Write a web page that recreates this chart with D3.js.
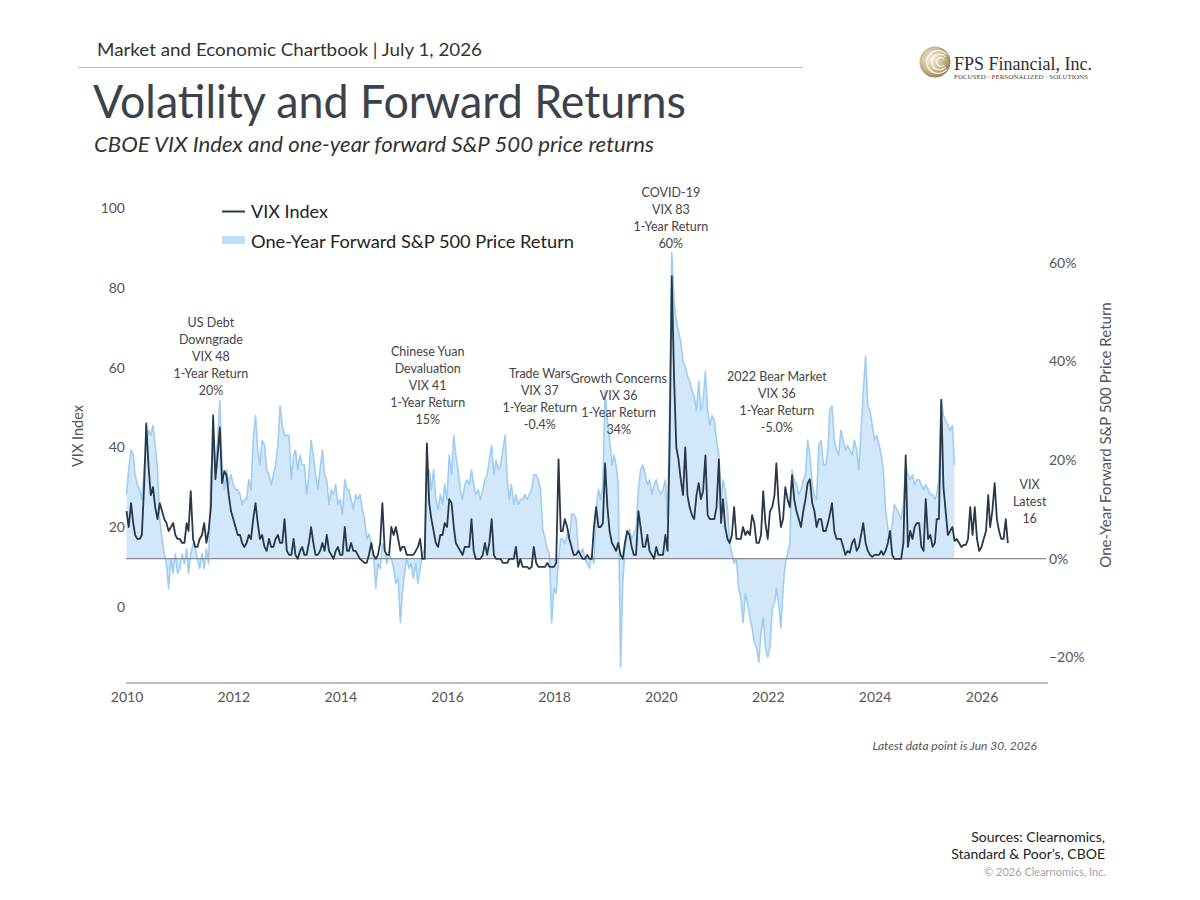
<!DOCTYPE html>
<html>
<head>
<meta charset="utf-8">
<title>Volatility and Forward Returns</title>
<script src="https://cdn.jsdelivr.net/npm/d3@7"></script>
<style>
  html, body { margin: 0; padding: 0; background: #fff; }
  #chart { width: 1200px; height: 900px; }
  text { font-family: Lato, "Open Sans", sans-serif; }
</style>
</head>
<body>
<div id="chart"></div>
<script>
///////////////////////////////////////////////////////////// ! Data
// VIX readings on the 1st and 16th of each month, Jan 2010 - mid Jun 2026
const vixValues = [
  24, 20, 26, 21, 18, 17, 17, 18, 30, 46, 35, 28, 30, 25, 22, 26, 24, 22, 21, 19, 20, 21, 18, 17, // 2010
  17, 16, 16, 21, 19, 29, 17, 15, 15, 17, 18, 21, 16, 19, 25, 48, 32, 38, 45, 31, 34, 33, 28, 24, // 2011
  22, 20, 18, 18, 16, 15, 16, 18, 17, 22, 26, 21, 17, 18, 15, 14, 17, 15, 15, 17, 18, 16, 16, 22, // 2012
  14, 13, 13, 17, 13, 12, 14, 15, 13, 13, 16, 20, 16, 13, 13, 14, 16, 14, 18, 14, 13, 12, 14, 15, // 2013
  13, 13, 20, 14, 14, 16, 14, 14, 13, 12, 11.5, 11, 11, 13, 16, 13, 12, 13, 16, 26, 14, 13, 13, 20, // 2014
  18, 20, 17, 14, 15, 15, 13, 13, 13, 13, 14, 15, 17, 12, 12, 41, 26, 22, 19, 16, 15, 18, 18, 21, // 2015
  20, 27, 26, 20, 16, 15, 14, 13, 15, 15, 15, 22, 14, 12, 12, 12, 13, 16, 13, 16, 22, 13, 12, 12, // 2016
  12, 11, 11, 11, 12, 12, 12, 15, 10, 12, 10, 10, 10, 9.5, 10, 15, 11, 10, 10, 10, 10, 11, 10, 10, // 2017
  10, 11, 37, 19, 19, 22, 20, 17, 15, 13, 13, 14, 13, 12, 12, 13, 12, 12, 20, 25, 20, 20, 21, 36, // 2018
  25, 19, 16, 15, 14, 16, 13, 12, 16, 19, 18, 15, 13, 13, 24, 20, 15, 15, 18, 14, 13, 12, 15, 13, // 2019
  13, 13, 18, 14, 40, 83, 57, 40, 37, 32, 28, 40, 28, 25, 23, 22, 28, 31, 27, 29, 38, 23, 22, 22, // 2020
  22, 25, 37, 21, 27, 20, 17, 16, 18, 25, 17, 17, 17, 20, 18, 19, 18, 23, 21, 16, 16, 18, 29, 21, // 2021
  17, 24, 25, 28, 36, 26, 20, 22, 30, 27, 25, 33, 27, 24, 22, 20, 24, 27, 31, 32, 26, 24, 20, 22, // 2022
  22, 19, 19, 21, 23, 26, 19, 17, 17, 17, 15, 13, 14, 13.5, 16, 17, 14, 15, 18, 21, 16, 14, 13, 12.5, // 2023
  13, 13, 13, 14, 13, 14, 16, 19, 13, 12, 12, 12, 12, 16, 38, 15, 19, 17, 20, 21, 21, 15, 14, 27, // 2024
  17, 18, 15, 16, 22, 22, 52, 30, 24, 18, 19, 20, 16.5, 17, 16, 15, 15.5, 15.5, 17, 25, 18, 25, 17, 14, // 2025
  15, 17, 19, 28, 20, 24, 31, 22, 19, 17, 17, 22, // 2026
];
const vixLatest = { date: "2026-06-30", value: 16 };

// One-year forward S&P 500 price return (%), same semi-monthly dates, Jan 2010 - mid Jun 2025
const returnValues = [
  13, 18, 22, 21, 17, 15, 14, 12, 18, 23, 26, 25, 27, 23, 18, 8, 4, 1, -1, -6, 0, -3, 1, -3, // 2010
  -2, 1, -1, 2, -3, 1, 3, 2, 0, -2, 1, -2, 2, -1, 18, 22, 19, 24, 32, 19, 14, 18, 15, 17, // 2011
  15, 14, 14, 13, 11, 12, 12, 16, 14, 24, 29, 22, 19, 24, 23, 18, 17, 15, 17, 19, 23, 31, 27, 25, // 2012
  25, 25, 16, 21, 22, 18, 21, 19, 19, 13, 17, 24, 21, 17, 14, 18, 22, 17, 16, 11, 14, 13, 15, 11, // 2013
  12, 9, 16, 14, 14, 12, 10, 13, 12, 13, 10, 8, 4, 5, 3, 1, -6, -1, -2, 3, 2, -1, 1, 0, // 2014
  -2, -5, -4, -13, -7, -3, 0, -2, -1, -4, -1, -5, -2, 1, 2, 15, 18, 14, 18, 12, 10, 13, 11, 15, // 2015
  12, 21, 17, 25, 21, 18, 14, 12, 15, 16, 15, 18, 15, 13, 14, 12, 14, 16, 17, 20, 23, 17, 20, 18, // 2016
  19, 22, 25, 16, 12, 15, 11, 13, 11, 12, 12, 13, 12, 13, 14, 17, 17, 16, 14, 6, 4, 2, 1, -13, // 2017
  -6, -7, 0, 4, 4, 3, 5, 4, 9, 9, 8, 2, 1, 2, 0, -1, -2, 1, -1, 10, 14, 12, 15, 34, // 2018
  28, 24, 19, 21, 19, 15, -22, -5, 2, 5, 6, 4, 5, 6, 14, 18, 19, 17, 15, 16, 13, 15, 16, 14, // 2019
  13, 14, 16, 8, 30, 62, 52, 48, 46, 44, 40, 39, 37, 36, 34, 33, 30, 36, 30, 32, 38, 30, 27, 29, // 2020
  28, 24, 21, 12, 16, 14, 10, 3, 1, -1, 0, -6, -8, -13, -7, -9, -12, -14, -17, -18, -21, -15, -12, -18, // 2021
  -20, -18, -10, -9, -6, -9, -14, -6, -1, 1, 3, 18, 16, 15, 13, 14, 16, 17, 24, 21, 15, 13, 12, 23, // 2022
  24, 19, 19, 22, 30, 31, 24, 22, 21, 26, 24, 22, 23, 22, 21, 24, 22, 18, 26, 34, 41, 31, 30, 27, // 2023
  24, 25, 23, 21, 18, 10, 6, 4, 7, 11, 10, 9, 8, 11, 19, 17, 16, 17, 15, 16, 16, 15, 14, 15, // 2024
  14, 13, 13, 12, 13, 16, 32, 29, 28, 27, 26, 27, // 2025
];
const returnLatest = { date: "2025-06-30", value: 19 };

// Axis ticks
const yearTicks = [2010, 2012, 2014, 2016, 2018, 2020, 2022, 2024, 2026];
const vixTicks = [0, 20, 40, 60, 80, 100];
const returnTicks = [-20, 0, 20, 40, 60];

// Event annotations: label text and the date the label is centred on
const annotationText = [
  ["US Debt", "Downgrade", "VIX 48", "1-Year Return", "20%"],
  ["Chinese Yuan", "Devaluation", "VIX 41", "1-Year Return", "15%"],
  ["Trade Wars", "VIX 37", "1-Year Return", "-0.4%"],
  ["Growth Concerns", "VIX 36", "1-Year Return", "34%"],
  ["COVID-19", "VIX 83", "1-Year Return", "60%"],
  ["2022 Bear Market", "VIX 36", "1-Year Return", "-5.0%"],
  ["VIX", "Latest", "16"],
];
const annotationDates = ["2011-08-01", "2015-08-22", "2017-09-26", "2019-03-19", "2020-03-10", "2022-03-04", "2026-11-26"];

(function () {
  ///////////////////////////////////////////////////////////// ! Setup
  const width = 1200;
  const height = 900;
  const parseDate = d3.timeParse("%Y-%m-%d");
  const semiMonth = (i) => new Date(2010, Math.floor(i / 2), i % 2 ? 16 : 1);

  const vixData = vixValues
    .map((v, i) => ({ date: semiMonth(i), value: v }))
    .concat([{ date: parseDate(vixLatest.date), value: vixLatest.value }]);
  const returnData = returnValues
    .map((v, i) => ({ date: semiMonth(i), value: v }))
    .concat([{ date: parseDate(returnLatest.date), value: returnLatest.value }]);

  const svg = d3
    .select("#chart")
    .append("svg")
    .attr("width", width)
    .attr("height", height)
    .style("display", "block");

  // squeeze a text into a fixed width (reference uses a narrow face)
  function fitWidth(sel, w) {
    sel.attr("textLength", w).attr("lengthAdjust", "spacingAndGlyphs");
    return sel;
  }

  ///////////////////////////////////////////////////////////// ! Header
  fitWidth(
    svg.append("text")
      .attr("x", 97).attr("y", 56)
      .style("font-size", "17px").style("fill", "#333")
      .text("Market and Economic Chartbook | July 1, 2026"),
    385
  );

  svg.append("line")
    .attr("x1", 78).attr("x2", 803).attr("y1", 67.5).attr("y2", 67.5)
    .style("stroke", "#c4c4c4").style("stroke-width", 1);

  fitWidth(
    svg.append("text")
      .attr("x", 93).attr("y", 118)
      .style("font-size", "46px").style("fill", "#3b424d")
      .text("Volatility and Forward Returns"),
    593
  );

  fitWidth(
    svg.append("text")
      .attr("x", 94).attr("y", 152)
      .style("font-size", "20.5px").style("font-style", "italic").style("fill", "#333")
      .text("CBOE VIX Index and one-year forward S&P 500 price returns"),
    560
  );

  ///////////////////////////////////////////////////////////// ! Logo
  const defs = svg.append("defs");
  const grad = defs.append("radialGradient").attr("id", "logoGold")
    .attr("cx", "40%").attr("cy", "40%").attr("r", "65%");
  grad.append("stop").attr("offset", "0%").attr("stop-color", "#f4efe0");
  grad.append("stop").attr("offset", "55%").attr("stop-color", "#cdbf95");
  grad.append("stop").attr("offset", "100%").attr("stop-color", "#8f7d4c");

  const logo = svg.append("g").attr("transform", "translate(935,62)");
  logo.append("circle").attr("r", 15.5).style("fill", "url(#logoGold)");
  [12, 8.5, 5].forEach((r, i) => {
    logo.append("path")
      .attr("transform", `translate(${3 + i * 1.5},0)`)
      .attr("d", d3.arc()({
        innerRadius: r - 1.3,
        outerRadius: r,
        startAngle: Math.PI / 2 + 0.7,
        endAngle: Math.PI * 2.5 - 0.7,
      }))
      .style("fill", "#fff").style("opacity", 0.85);
  });

  fitWidth(
    svg.append("text")
      .attr("x", 954).attr("y", 70)
      .style("font-family", "'Liberation Serif', 'DejaVu Serif', serif")
      .style("font-size", "18px").style("fill", "#2f2f2f")
      .text("FPS Financial, Inc."),
    138
  );
  fitWidth(
    svg.append("text")
      .attr("x", 954).attr("y", 78.5)
      .style("font-family", "'Liberation Serif', 'DejaVu Serif', serif")
      .style("font-size", "5.5px").style("fill", "#444")
      .text("FOCUSED  ·  PERSONALIZED  ·  SOLUTIONS"),
    134
  );

  ///////////////////////////////////////////////////////////// ! Scales
  const x = d3.scaleTime()
    .domain([new Date(2010, 0, 1), new Date(2026, 0, 1)])
    .range([126.5, 981.5]);
  const yVix = d3.scaleLinear().domain([0, 100]).range([606.7, 208.3]);
  const yRet = d3.scaleLinear().domain([-20, 60]).range([657.3, 262.7]);

  const plotLeft = 126;
  const plotRight = 1048;
  const plotBottom = 683;

  ///////////////////////////////////////////////////////////// ! Forward return area
  const area = d3.area()
    .x((d) => x(d.date))
    .y0(yRet(0))
    .y1((d) => yRet(d.value));

  svg.append("path")
    .datum(returnData)
    .attr("d", area)
    .style("fill", "#d2e8fa");

  svg.append("path")
    .datum(returnData)
    .attr("d", d3.line().x((d) => x(d.date)).y((d) => yRet(d.value)))
    .style("fill", "none")
    .style("stroke", "#9fcdf1")
    .style("stroke-width", 1.6)
    .style("stroke-linejoin", "round");

  // 0% reference line
  svg.append("line")
    .attr("x1", plotLeft).attr("x2", 1046)
    .attr("y1", yRet(0)).attr("y2", yRet(0))
    .style("stroke", "#878c93").style("stroke-width", 1.2);

  ///////////////////////////////////////////////////////////// ! VIX line
  svg.append("path")
    .datum(vixData)
    .attr("d", d3.line().x((d) => x(d.date)).y((d) => yVix(d.value)))
    .style("fill", "none")
    .style("stroke", "#283848")
    .style("stroke-width", 1.8)
    .style("stroke-linejoin", "round");

  ///////////////////////////////////////////////////////////// ! Axes
  svg.append("line")
    .attr("x1", plotLeft).attr("x2", plotRight)
    .attr("y1", plotBottom).attr("y2", plotBottom)
    .style("stroke", "#7d7d7d").style("stroke-width", 1.2);

  const xAxis = svg.append("g")
    .attr("transform", `translate(0,${plotBottom})`)
    .call(
      d3.axisBottom(x)
        .tickValues(yearTicks.map((y) => new Date(y, 0, 1)))
        .tickFormat(d3.timeFormat("%Y"))
        .tickSize(0)
        .tickPadding(9)
    );

  const leftAxis = svg.append("g")
    .attr("transform", `translate(${plotLeft},0)`)
    .call(d3.axisLeft(yVix).tickValues(vixTicks).tickSize(0).tickPadding(1));

  const rightAxis = svg.append("g")
    .attr("transform", "translate(1049,0)")
    .call(
      d3.axisRight(yRet)
        .tickValues(returnTicks)
        .tickSize(0)
        .tickPadding(0)
        .tickFormat((d) => (d < 0 ? "\u2212" : "") + Math.abs(d) + "%")
    );

  [xAxis, leftAxis, rightAxis].forEach((g) => {
    g.select(".domain").remove();
    g.selectAll("text")
      .style("font-family", "Lato, 'Open Sans', sans-serif")
      .style("font-size", "14px")
      .style("fill", "#555");
  });

  // axis titles
  svg.append("text")
    .attr("transform", "translate(83,436) rotate(-90)")
    .style("text-anchor", "middle")
    .style("font-size", "14.5px").style("fill", "#555")
    .text("VIX Index");

  svg.append("text")
    .attr("transform", "translate(1111,435) rotate(-90)")
    .style("text-anchor", "middle")
    .style("font-size", "15px").style("fill", "#555")
    .text("One-Year Forward S&P 500 Price Return");

  ///////////////////////////////////////////////////////////// ! Legend
  svg.append("line")
    .attr("x1", 222).attr("x2", 245).attr("y1", 211.5).attr("y2", 211.5)
    .style("stroke", "#283848").style("stroke-width", 2);
  svg.append("text")
    .attr("x", 251).attr("y", 217.5)
    .style("font-size", "18px").style("fill", "#222")
    .text("VIX Index");

  svg.append("rect")
    .attr("x", 222).attr("y", 236).attr("width", 23).attr("height", 8)
    .style("fill", "#bfdff8");
  fitWidth(
    svg.append("text")
      .attr("x", 251).attr("y", 247.5)
      .style("font-size", "18px").style("fill", "#222")
      .text("One-Year Forward S&P 500 Price Return"),
    323
  );

  ///////////////////////////////////////////////////////////// ! Annotations
  const annotationTop = [326.5, 355.5, 377.5, 382.5, 196.5, 380.5, 488.5];
  const lineHeight = 17.2;

  annotationText.forEach((lines, i) => {
    const t = svg.append("text")
      .attr("x", x(parseDate(annotationDates[i])))
      .attr("y", annotationTop[i])
      .style("text-anchor", "middle")
      .style("font-size", "12.5px")
      .style("fill", "#444");
    lines.forEach((line, j) => {
      t.append("tspan")
        .attr("x", x(parseDate(annotationDates[i])))
        .attr("dy", j === 0 ? 0 : lineHeight)
        .text(line);
    });
  });

  ///////////////////////////////////////////////////////////// ! Footer
  svg.append("text")
    .attr("x", 1037).attr("y", 750)
    .style("text-anchor", "end")
    .style("font-size", "12px").style("font-style", "italic").style("fill", "#555")
    .text("Latest data point is Jun 30, 2026");

  const sources = ["Sources: Clearnomics,", "Standard & Poor\u2019s, CBOE"];
  sources.forEach((s, i) => {
    svg.append("text")
      .attr("x", 1105).attr("y", 842 + i * 17)
      .style("text-anchor", "end")
      .style("font-size", "14px").style("fill", "#222")
      .text(s);
  });
  svg.append("text")
    .attr("x", 1106).attr("y", 876)
    .style("text-anchor", "end")
    .style("font-size", "11px").style("fill", "#a3a3a3")
    .text("\u00a9 2026 Clearnomics, Inc.");
})();
</script>
</body>
</html>
